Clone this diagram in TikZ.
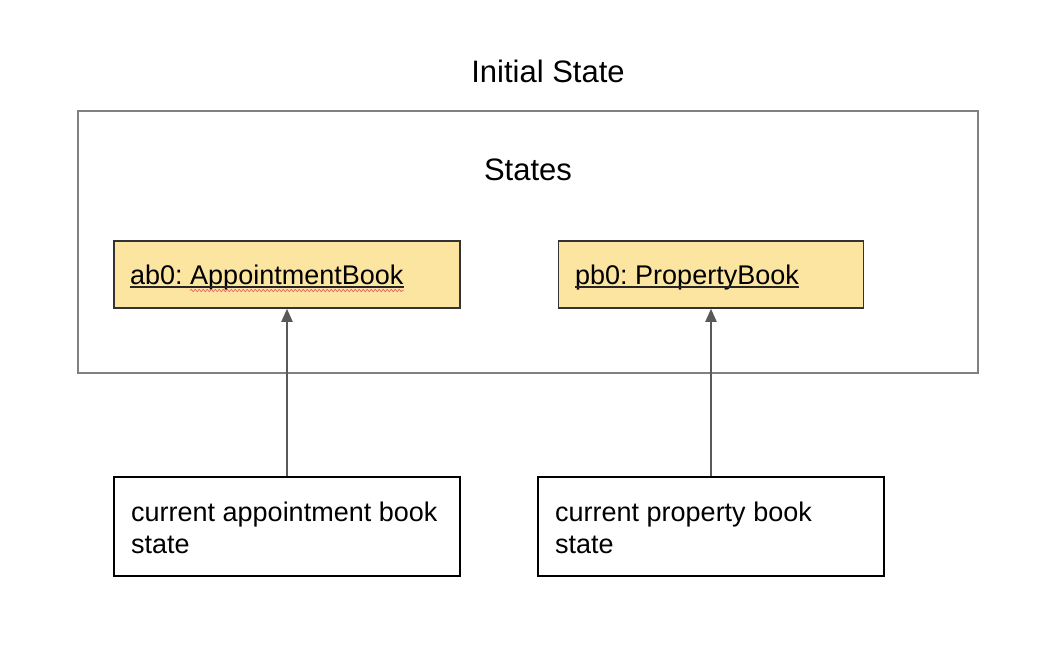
\documentclass[tikz,border=0pt]{standalone}
\usepackage{fontspec}
\setmainfont{Liberation Sans}
\usetikzlibrary{arrows.meta,decorations.pathmorphing}
\definecolor{framegray}{HTML}{808080}
\definecolor{objyellow}{HTML}{FCE5A0}
\definecolor{arrowgray}{HTML}{595959}
\definecolor{spellred}{HTML}{E06666}
\frenchspacing
\begin{document}
\begin{tikzpicture}[x=1pt,y=-1pt,
  bigtext/.style={font=\fontsize{31}{36}\selectfont, inner sep=0pt, anchor=base},
  boxtext/.style={font=\fontsize{27}{32}\selectfont, inner sep=0pt, align=left, anchor=base west},
  framebox/.style={draw=framegray, line width=1.5pt, minimum width=900pt, minimum height=262pt, inner sep=0pt},
  objbox/.style={draw=black!80, fill=objyellow, line width=1.5pt, minimum height=67pt, inner sep=0pt},
  notebox/.style={draw=black, fill=white, line width=1.5pt, minimum width=346pt, minimum height=99pt, inner sep=0pt},
  uline/.style={draw=black!85, line width=1.2pt},
  wavy/.style={draw=spellred, line width=0.7pt, decorate, decoration={snake, amplitude=1.1pt, segment length=4pt}},
  ptr/.style={draw=arrowgray, line width=2pt, -{Triangle[length=13pt,width=11pt]}}]
\useasboundingbox (0,0) rectangle (1062,668);
\node[bigtext] (title) at (548,83) {Initial State};
\node[framebox] (states) at (528,242) {};
\node[bigtext] (stateslbl) at (528,181) {States};
% object boxes
\node[objbox, minimum width=346pt] (ab) at (287,274.5) {};
\node[objbox, minimum width=305pt] (pb) at (711,274.5) {};
\node[boxtext] (abl) at (130,284.5) {ab0: AppointmentBook};
\node[boxtext] (pbl) at (575,284.5) {pb0: PropertyBook};
\draw[uline] ([yshift=-2.5pt]abl.base west) -- ([yshift=-2.5pt]abl.base east);
\draw[uline] ([yshift=-2.5pt]pbl.base west) -- ([yshift=-2.5pt]pbl.base east);
\draw[wavy] ([xshift=60pt,yshift=-6pt]abl.base west) -- ([yshift=-6pt]abl.base east);
% pointer boxes
\node[notebox] (curab) at (287,526.5) {};
\node[notebox] (curpb) at (711,526.5) {};
\node[boxtext] (curabl) at (131,553) {current appointment book\\state};
\node[boxtext] (curpbl) at (555,553) {current property book\\state};
% arrows
\draw[ptr] (curab) -- (ab);
\draw[ptr] (curpb) -- (pb);
\end{tikzpicture}
\end{document}
